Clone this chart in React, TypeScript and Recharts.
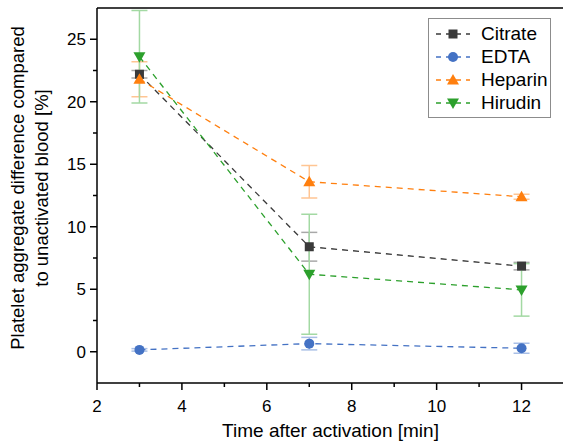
import React from 'react';
import {
  LineChart,
  Line,
  XAxis,
  YAxis,
  ErrorBar,
  ReferenceLine,
  Label,
} from 'recharts';

const TIMES = [3, 7, 12];

const CITRATE = [22.2, 8.4, 6.85];
const CITRATE_ERR = [0.3, 1.15, 0.3];
const EDTA = [0.15, 0.65, 0.28];
const EDTA_ERR = [0.1, 0.5, 0.4];
const HEPARIN = [21.8, 13.6, 12.4];
const HEPARIN_ERR = [1.4, 1.3, 0.2];
const HIRUDIN = [23.6, 6.2, 4.95];
const HIRUDIN_ERR = [3.7, 4.8, 2.1];

const X_TICKS = [2, 3, 4, 5, 6, 7, 8, 9, 10, 11, 12, 13];
const Y_TICKS = [0, 2.5, 5, 7.5, 10, 12.5, 15, 17.5, 20, 22.5, 25];

const FONT = '"Liberation Sans", Arial, sans-serif';

const data = TIMES.map((t, i) => ({
  t,
  citrate: CITRATE[i],
  citrateErr: CITRATE_ERR[i],
  edta: EDTA[i],
  edtaErr: EDTA_ERR[i],
  heparin: HEPARIN[i],
  heparinErr: HEPARIN_ERR[i],
  hirudin: HIRUDIN[i],
  hirudinErr: HIRUDIN_ERR[i],
}));

const series = [
  { key: 'citrate', name: 'Citrate', color: '#3a3a3a', line: '#3a3a3a', err: '#a8a8a8', shape: 'square' },
  { key: 'edta', name: 'EDTA', color: '#4472c4', line: '#4472c4', err: '#a9bfe6', shape: 'circle' },
  { key: 'heparin', name: 'Heparin', color: '#ff7f0e', line: '#ff7f0e', err: '#ffc593', shape: 'up' },
  { key: 'hirudin', name: 'Hirudin', color: '#2ca02c', line: '#2ca02c', err: '#a3d9a3', shape: 'down' },
];

function Marker({ cx, cy, shape, color }: { cx: number; cy: number; shape: string; color: string }) {
  if (shape === 'square') {
    return <rect x={cx - 4.5} y={cy - 4.5} width={9} height={9} fill={color} />;
  }
  if (shape === 'circle') {
    return <circle cx={cx} cy={cy} r={5} fill={color} />;
  }
  if (shape === 'up') {
    return <polygon points={`${cx},${cy - 6} ${cx + 6},${cy + 4.5} ${cx - 6},${cy + 4.5}`} fill={color} />;
  }
  return <polygon points={`${cx},${cy + 6} ${cx + 6},${cy - 4.5} ${cx - 6},${cy - 4.5}`} fill={color} />;
}

function XTick(props: any) {
  const { x, y, payload } = props;
  const v = payload.value;
  const major = v % 2 === 0;
  return (
    <g>
      <line x1={x} x2={x} y1={y} y2={y + (major ? 7 : 4)} stroke="#000" strokeWidth={1.5} />
      {major && v <= 12 && (
        <text x={x} y={y + 29} textAnchor="middle" fontSize={17} fontFamily={FONT} fill="#000">
          {v}
        </text>
      )}
    </g>
  );
}

function YTick(props: any) {
  const { x, y, payload } = props;
  const v = payload.value;
  const major = v % 5 === 0;
  return (
    <g>
      <line x1={x} x2={x - (major ? 7 : 4)} y1={y} y2={y} stroke="#000" strokeWidth={1.5} />
      {major && (
        <text x={x - 11} y={y + 6} textAnchor="end" fontSize={17} fontFamily={FONT} fill="#000">
          {v}
        </text>
      )}
    </g>
  );
}

function YTitle() {
  return (
    <text
      transform="translate(0, 188) rotate(-90)"
      textAnchor="middle"
      fontSize={18.5}
      fontFamily={FONT}
      fill="#000"
    >
      <tspan x={0} y={24}>Platelet aggregate difference compared</tspan>
      <tspan x={0} y={48}>to unactivated blood [%]</tspan>
    </text>
  );
}

function LegendBox() {
  return (
    <div
      style={{
        position: 'absolute',
        left: 428,
        top: 18,
        width: 121,
        height: 98,
        border: '1px solid #8c8c8c',
        background: '#fff',
        fontFamily: FONT,
        fontSize: 19,
      }}
    >
      {series.map((s, i) => (
        <div
          key={s.key}
          style={{ position: 'absolute', left: 0, top: 3 + i * 23, height: 23, display: 'flex', alignItems: 'center' }}
        >
          <svg width={44} height={16} style={{ marginLeft: 5 }}>
            <line x1={2} x2={36} y1={8} y2={8} stroke={s.line} strokeWidth={1.4} strokeDasharray="5 5" />
            <Marker cx={19} cy={8} shape={s.shape} color={s.color} />
          </svg>
          <span style={{ marginLeft: 3, color: '#000' }}>{s.name}</span>
        </div>
      ))}
    </div>
  );
}

export default function App() {
  return (
    <div style={{ position: 'absolute', left: 0, top: 0, width: 563, height: 443, overflow: 'hidden', background: '#fff' }}>
      <LineChart width={570} height={443} data={data} margin={{ top: 8, right: 6, left: 0, bottom: 0 }}>
        <XAxis
          dataKey="t"
          type="number"
          domain={[2, 13]}
          ticks={X_TICKS}
          interval={0}
          tickSize={0}
          tickMargin={0}
          tickLine={false}
          tick={<XTick />}
          axisLine={{ stroke: '#000', strokeWidth: 1.5 }}
          height={60}
        >
          <Label
            value="Time after activation [min]"
            position="insideBottom"
            offset={6}
            style={{ fontSize: 19, fontFamily: FONT, fill: '#000' }}
          />
        </XAxis>
        <YAxis
          type="number"
          domain={[-2.5, 27.5]}
          ticks={Y_TICKS}
          interval={0}
          tickSize={0}
          tickMargin={0}
          tickLine={false}
          tick={<YTick />}
          axisLine={{ stroke: '#000', strokeWidth: 1.5 }}
          width={97}
          label={<YTitle />}
        />
        <ReferenceLine y={27.5} stroke="#000" strokeWidth={1.5} />
        <ReferenceLine x={13} stroke="#000" strokeWidth={1.5} />
        {/* dashed lines + error bars first, markers drawn on top afterwards */}
        {series.map((s) => (
          <Line
            key={s.key}
            dataKey={s.key}
            name={s.name}
            stroke={s.line}
            strokeWidth={1.3}
            strokeDasharray="6 5"
            isAnimationActive={false}
            dot={false}
            activeDot={false}
          >
            <ErrorBar dataKey={`${s.key}Err`} direction="y" width={8} stroke={s.err} strokeWidth={1.5} />
          </Line>
        ))}
        {series.map((s) => (
          <Line
            key={`${s.key}-pts`}
            dataKey={s.key}
            stroke="none"
            legendType="none"
            isAnimationActive={false}
            dot={(p: any) => <Marker key={`${s.key}-${p.index}`} cx={p.cx} cy={p.cy} shape={s.shape} color={s.color} />}
            activeDot={false}
          />
        ))}
      </LineChart>
      <LegendBox />
    </div>
  );
}
